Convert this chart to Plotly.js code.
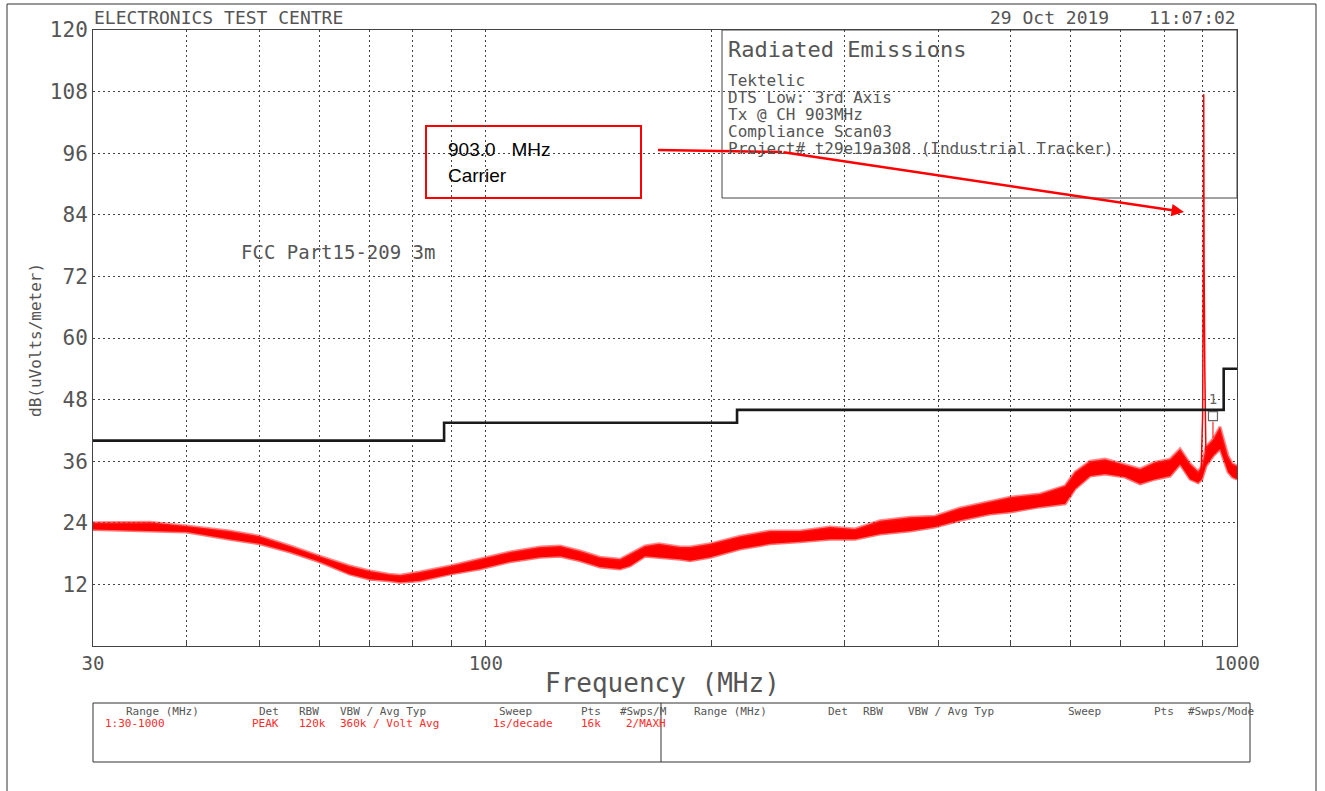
<!DOCTYPE html>
<html><head><meta charset="utf-8">
<script src="https://cdn.plot.ly/plotly-3.0.1.min.js"></script>
<style>html,body{margin:0;padding:0;background:#fff;} #chart{width:1325px;height:791px;}</style>
</head><body><div id="chart"></div>
<script>
// ---- data ----
const freqMHz = [30.0, 35.7, 40.0, 45.6, 50.0, 54.9, 60.1, 65.9, 70.1, 74.3, 76.9, 81.7, 89.6, 98.2, 107.7, 118.1, 125.6, 133.5, 141.9, 150.9, 155.6, 162.9, 170.0, 181.4, 187.1, 198.9, 218.0, 239.0, 262.0, 287.2, 310.1, 334.8, 367.1, 396.3, 427.9, 469.1, 498.8, 546.7, 590.4, 608.8, 637.4, 667.4, 709.6, 743.0, 778.0, 814.6, 840.0, 866.1, 887.7, 898.0, 909.6, 929.3, 949.4, 973.0, 986.0, 1000];
const upperDb = [24.0, 24.1, 23.4, 22.4, 21.4, 19.5, 17.5, 15.6, 14.6, 14.0, 13.8, 14.4, 15.6, 16.9, 18.3, 19.3, 19.5, 18.5, 17.3, 16.9, 17.9, 19.5, 19.9, 19.3, 19.3, 19.9, 21.4, 22.4, 22.4, 23.2, 22.8, 24.4, 25.1, 25.3, 26.9, 28.2, 29.0, 29.6, 31.2, 33.9, 36.0, 36.4, 35.4, 34.5, 35.8, 36.4, 38.4, 35.5, 34.0, 35.0, 38.8, 40.3, 42.7, 37.0, 35.5, 35.1];
const lowerDb = [22.7, 22.4, 22.2, 20.8, 19.9, 18.3, 16.4, 14.0, 13.0, 12.7, 12.4, 12.7, 14.0, 15.0, 16.4, 17.3, 17.5, 16.6, 15.4, 15.0, 15.6, 17.5, 17.3, 16.9, 16.6, 17.3, 18.9, 19.9, 20.3, 20.8, 20.8, 21.8, 22.4, 23.2, 24.5, 25.7, 26.1, 27.1, 27.7, 30.6, 33.1, 33.5, 32.9, 31.6, 32.5, 33.1, 35.4, 32.5, 31.8, 32.5, 35.1, 37.0, 38.4, 33.9, 32.9, 32.5];
const carrierFreq = [896, 900, 902, 903, 904, 906, 909];
const carrierDb = [34, 45, 75, 107.5, 75, 54, 38];
const limitFreq = [30, 88, 216, 960, 1000];
const limitDb = [40, 43.5, 46, 54, 54];
const markerFreq = [929];
const markerDb = [44.8];
const markerLabelDb = [47.9];
const markerLabel = ['1'];
const markerStemDb = [40.5, 43.7];
const yTickVals = [12, 24, 36, 48, 60, 72, 84, 96, 108, 120];
const xTickVals = [30, 40, 50, 60, 70, 80, 90, 100, 200, 300, 400, 500, 600, 700, 800, 900, 1000];
const xTickText = ['30', '', '', '', '', '', '', '100', '', '', '', '', '', '', '', '', '1000'];

const headerLeft = ['Range (MHz)', 'Det', 'RBW', 'VBW / Avg Typ', 'Sweep', 'Pts', '#Swps/M'];
const rowLeft = ['1:30-1000', 'PEAK', '120k', '360k / Volt Avg', '1s/decade', '16k', '2/MAXH'];
const headerRight = ['Range (MHz)', 'Det', 'RBW', 'VBW / Avg Typ', 'Sweep', 'Pts', '#Swps/Mode'];
const infoLines = ['Tektelic', 'DTS Low: 3rd Axis', 'Tx @ CH 903MHz', 'Compliance Scan03', 'Project# t29e19a308 (Industrial Tracker)'];

// ---- layout helpers (pixel -> paper) ----
const L = 93, R = 1237, T = 30, B = 646;
const PX = x => (x - L) / (R - L);
const PY = y => (B - y) / (B - T);
const MONO = 'DejaVu Sans Mono';
const TXT = '#555555';

const ann = [];
function txt(text, x, y, size, opts) {
  ann.push(Object.assign({
    text: text, xref: 'paper', yref: 'paper', x: PX(x), y: PY(y),
    xanchor: 'left', yanchor: 'middle', showarrow: false,
    font: {family: MONO, size: size, color: TXT}
  }, opts || {}));
}
txt('ELECTRONICS TEST CENTRE', 92, 17, 18);
txt('29 Oct 2019', 1111, 17, 18, {xanchor: 'right'});
txt('11:07:02', 1238, 17, 18, {xanchor: 'right'});
txt('Radiated Emissions', 726, 50, 22);
infoLines.forEach((s, i) => txt(s, 726, 80 + i * 17.2, 16));
txt('FCC Part15-209 3m', 239, 252, 19);
txt('dB(uVolts/meter)', 35, 340, 16, {xanchor: 'center', textangle: -90});
txt('Frequency (MHz)', 662, 683, 26, {xanchor: 'center'});
txt('903.0&nbsp;&nbsp;&nbsp;MHz', 446, 150, 19, {font: {family: 'Liberation Sans', size: 19, color: '#000'}});
txt('Carrier', 446, 175, 19, {font: {family: 'Liberation Sans', size: 19, color: '#000'}});

const hlX = [124, 257, 297, 338, 497, 579, 618];
const rlX = [103, 250, 297, 338, 491, 579, 624];
const hrX = [692, 826, 861, 906, 1066, 1152, 1186];
headerLeft.forEach((s, i) => txt(s, hlX[i], 711, 11));
rowLeft.forEach((s, i) => txt(s, rlX[i], 723, 11, {font: {family: MONO, size: 11, color: '#ff2a2a'}}));
headerRight.forEach((s, i) => txt(s, hrX[i], 711, 11));

// arrow head
ann.push({
  text: '', xref: 'paper', yref: 'paper', x: PX(1184), y: PY(212),
  axref: 'pixel', ayref: 'pixel', ax: 782 - 1184, ay: 152 - 212,
  showarrow: true, arrowhead: 2, arrowsize: 1, arrowwidth: 2.5, arrowcolor: '#ff0000'
});

const shapes = [
  {type: 'rect', xref: 'paper', yref: 'paper', x0: PX(7), x1: PX(1316), y0: PY(4), y1: PY(800), line: {color: '#333', width: 1}},
  {type: 'rect', xref: 'paper', yref: 'paper', x0: PX(722), x1: PX(1237), y0: PY(30), y1: PY(198), line: {color: '#444', width: 1}, fillcolor: '#fff', layer: 'between'},
  {type: 'rect', xref: 'paper', yref: 'paper', x0: PX(426), x1: PX(641), y0: PY(126), y1: PY(198), line: {color: '#ff0000', width: 2}, fillcolor: '#fff', layer: 'between'},
  {type: 'line', xref: 'paper', yref: 'paper', x0: PX(658), x1: PX(782), y0: PY(150), y1: PY(152), line: {color: '#ff0000', width: 2.5}},
  {type: 'rect', xref: 'paper', yref: 'paper', x0: PX(93), x1: PX(1250), y0: PY(703), y1: PY(762), line: {color: '#333', width: 1}},
  {type: 'line', xref: 'paper', yref: 'paper', x0: PX(661), x1: PX(661), y0: PY(703), y1: PY(762), line: {color: '#333', width: 1}}
];

const traces = [
  {x: freqMHz, y: lowerDb, type: 'scatter', mode: 'lines', line: {color: 'rgba(255,0,0,0.55)', width: 3}, hoverinfo: 'skip'},
  {x: freqMHz, y: upperDb, type: 'scatter', mode: 'lines', fill: 'tonexty', fillcolor: '#ff0000', line: {color: 'rgba(255,40,40,0.55)', width: 3}, hoverinfo: 'skip'},
  {x: carrierFreq, y: carrierDb, type: 'scatter', mode: 'lines', line: {color: '#ff0000', width: 1.5}},
  {x: limitFreq, y: limitDb, type: 'scatter', mode: 'lines', line: {color: '#1a1a1a', width: 2.6, shape: 'hv'}},
  {x: [markerFreq[0], markerFreq[0]], y: markerStemDb, type: 'scatter', mode: 'lines', line: {color: '#ff0000', width: 1}},
  {x: markerFreq, y: markerDb, type: 'scatter', mode: 'markers', marker: {symbol: 'square-open', size: 9, color: '#666', line: {width: 1.2}}},
  {x: markerFreq, y: markerLabelDb, type: 'scatter', mode: 'text', text: markerLabel, textfont: {family: MONO, size: 14, color: '#666'}}
];

const grid = {showgrid: true, gridcolor: '#444', gridwidth: 1, griddash: '2px,3px'};
const layout = {
  width: 1325, height: 791,
  margin: {l: L, r: 1325 - R, t: T, b: 791 - B},
  paper_bgcolor: '#fff', plot_bgcolor: 'rgba(0,0,0,0)',
  showlegend: false,
  xaxis: Object.assign({
    type: 'log', range: [Math.log10(30), 3], tickmode: 'array', tickvals: xTickVals, ticktext: xTickText,
    ticks: 'inside', ticklen: 6, tickcolor: '#444', showline: true, linecolor: '#444', linewidth: 1, mirror: true,
    tickfont: {family: MONO, size: 19, color: TXT}, zeroline: false
  }, grid),
  yaxis: Object.assign({
    range: [0, 120], tickmode: 'array', tickvals: yTickVals, ticks: '',
    showline: true, linecolor: '#444', linewidth: 1, mirror: true,
    tickfont: {family: MONO, size: 21, color: TXT}, zeroline: false
  }, grid),
  shapes: shapes,
  annotations: ann
};
Plotly.newPlot('chart', traces, layout, {staticPlot: true, displayModeBar: false});
</script></body></html>
